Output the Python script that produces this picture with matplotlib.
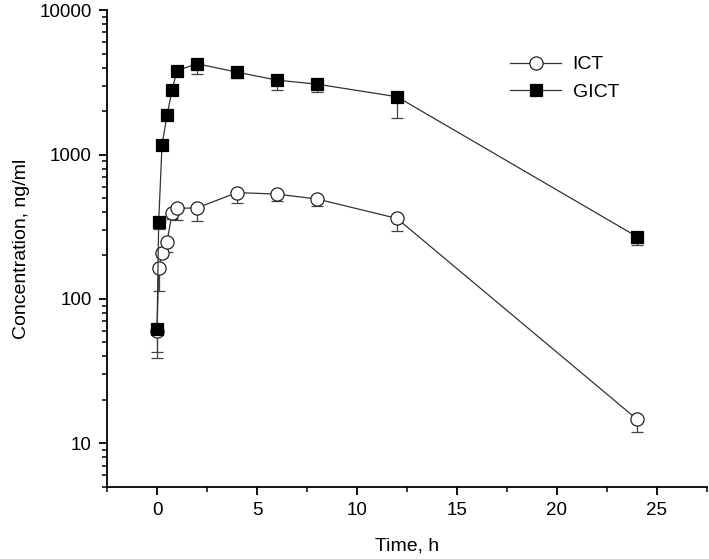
import numpy as np
import matplotlib.pyplot as plt
from matplotlib.ticker import MultipleLocator, LogLocator, FixedLocator, FixedFormatter, NullFormatter

plt.rcParams['font.family'] = ['Liberation Sans', 'DejaVu Sans']

# sampling times, h
time_h = [0, 0.083, 0.25, 0.5, 0.75, 1, 2, 4, 6, 8, 12, 24]

# mean concentrations, ng/ml
ict_mean = [60, 163, 207, 248, 392, 424, 427, 545, 532, 492, 361, 14.7]
gict_mean = [62, 343, 1172, 1866, 2806, 3808, 4250, 3716, 3273, 3070, 2512, 270]

# standard deviations (only lower bars are drawn)
ict_sd = [17, 49, 12, 38, 35, 72, 80, 86, 58, 52, 65, 2.7]
gict_sd = [23, 39, 80, 120, 180, 250, 630, 330, 498, 376, 732, 35]

y_ticks = [10, 100, 1000, 10000]
y_tick_labels = ['10', '100', '1000', '10000']

fig = plt.figure(figsize=(7.09, 5.59), dpi=100)
ax = fig.add_axes([0.151, 0.129, 0.846, 0.853])

line_col = '#333333'
err_col = '#444444'

for mean, sd in [(ict_mean, ict_sd), (gict_mean, gict_sd)]:
    _, caps, _ = ax.errorbar(time_h, mean, yerr=[sd, [0] * len(sd)], fmt='none',
                             ecolor=err_col, elinewidth=0.9, capsize=4.3,
                             capthick=0.9, zorder=2)
    # keep only the lower caps
    for cap in caps:
        if np.allclose(cap.get_ydata(), mean):
            cap.remove()

ax.plot(time_h, ict_mean, color=line_col, lw=0.9, marker='o', ms=9.5,
        mfc='white', mec='#222222', mew=0.9, label='ICT', zorder=3)
ax.plot(time_h, gict_mean, color=line_col, lw=0.9, marker='s', ms=8.5,
        mfc='black', mec='black', mew=0.9, label='GICT', zorder=4)

ax.set_yscale('log')
ax.set_ylim(5, 10000)
ax.set_xlim(-2.5, 27.5)

ax.yaxis.set_major_locator(FixedLocator(y_ticks))
ax.yaxis.set_major_formatter(FixedFormatter(y_tick_labels))
ax.yaxis.set_minor_locator(LogLocator(base=10, subs=range(2, 10)))
ax.yaxis.set_minor_formatter(NullFormatter())

ax.xaxis.set_major_locator(MultipleLocator(5))
ax.xaxis.set_minor_locator(MultipleLocator(2.5))

for side in ['top', 'right']:
    ax.spines[side].set_visible(False)
for side in ['left', 'bottom']:
    ax.spines[side].set_linewidth(1.3)

ax.tick_params(which='major', direction='out', length=6, width=1.3, labelsize=13.5,
               colors='black', pad=5)
ax.tick_params(which='minor', direction='out', length=3.5, width=1.1)

ax.set_xlabel('Time, h', fontsize=14, labelpad=13)
ax.set_ylabel('Concentration, ng/ml', fontsize=14, labelpad=7)

ax.legend(loc='center left', bbox_to_anchor=(0.72, 0.86), bbox_transform=fig.transFigure,
          frameon=False, fontsize=14, handlelength=2.6, handletextpad=0.6,
          labelspacing=0.5, borderpad=0, borderaxespad=0)

fig.savefig('out.png', dpi=100)
